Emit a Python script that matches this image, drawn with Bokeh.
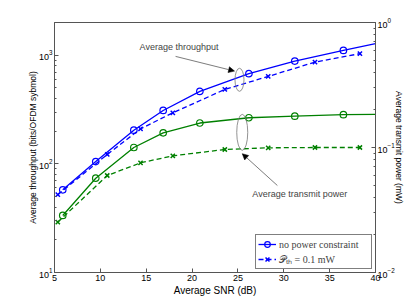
from bokeh.plotting import figure
from bokeh.models import (Range1d, LogScale, LogAxis, FixedTicker, LogTickFormatter,
                          Legend, LegendItem, Arrow, NormalHead, Label)
from bokeh.embed import file_html
from bokeh.resources import INLINE

# ---- data ----
snr_o = [5.9, 9.5, 13.65, 16.85, 20.85, 26.2, 31.2, 36.5]          # circle markers
snr_x = [5.36, 10.75, 14.38, 17.9, 23.57, 28.3, 33.4, 38.3]        # cross markers
snr_end = 40.0                                                     # solid lines run to the edge

thr_noc = [57.7, 105, 204, 310, 464, 676, 883, 1107]               # throughput, no power constraint
thr_noc_end = 1276
thr_pth = [52, 122, 210, 295, 484, 638, 863, 1033]                 # throughput, P_th = 0.1 mW

pow_noc = [0.0286, 0.0568, 0.100, 0.131, 0.157, 0.173, 0.178, 0.183]  # power (mW), no constraint
pow_noc_end = 0.184
pow_pth = [0.0253, 0.0597, 0.0754, 0.0858, 0.0964, 0.0994, 0.100, 0.100]  # power, P_th

x_ticks = [5, 10, 15, 20, 25, 30, 35, 40]
thr_ticks = [10, 100, 1000]
pow_ticks = [0.01, 0.1, 1]

BLUE = "#0000ff"
GREEN = "#008000"
AX = "#555555"
FONT = "Liberation Sans"


def log_minors(majors, upper):
    out = []
    for m in majors:
        for k in range(2, 10):
            v = m * k
            if v <= upper * 1.0001:
                out.append(v)
    return out


p = figure(width=415, height=306, x_range=Range1d(5, 40), y_range=Range1d(10, 2000),
           y_axis_type="log", output_backend="svg", toolbar_location=None,
           min_border_left=54, min_border_right=40, min_border_top=22, min_border_bottom=34)
p.extra_y_ranges = {"pw": Range1d(0.01, 1)}
p.extra_y_scales = {"pw": LogScale()}
p.grid.visible = False
p.outline_line_color = AX
p.background_fill_color = "white"
p.border_fill_color = "white"

LW = 1.3
# throughput (left axis)
l1 = p.line(snr_o + [snr_end], thr_noc + [thr_noc_end], line_color=BLUE, line_width=LW)
m1 = p.scatter(snr_o, thr_noc, marker="circle", size=6.5, fill_color=None,
               line_color=BLUE, line_width=1.2)
l2 = p.line(snr_x, thr_pth, line_color=BLUE, line_width=LW, line_dash="5 3")
m2 = p.scatter(snr_x, thr_pth, marker="x", size=6, line_color=BLUE, line_width=1.5)

# power (right axis)
p.line(snr_o + [snr_end], pow_noc + [pow_noc_end], line_color=GREEN, line_width=LW,
       y_range_name="pw")
p.scatter(snr_o, pow_noc, marker="circle", size=6.5, fill_color=None,
          line_color=GREEN, line_width=1.2, y_range_name="pw")
p.line(snr_x, pow_pth, line_color=GREEN, line_width=LW, line_dash="5 3", y_range_name="pw")
p.scatter(snr_x, pow_pth, marker="x", size=6, line_color=GREEN, line_width=1.5,
          y_range_name="pw")


def style_axis(ax):
    ax.axis_line_color = AX
    ax.major_tick_line_color = AX
    ax.minor_tick_line_color = AX
    ax.major_tick_in = 4
    ax.major_tick_out = 0
    ax.minor_tick_in = 2
    ax.minor_tick_out = 0
    ax.major_label_text_font = FONT
    ax.major_label_text_font_size = "9px"
    ax.major_label_text_color = "black"
    ax.axis_label_text_font = FONT
    ax.axis_label_text_font_size = "10px"
    ax.axis_label_text_font_style = "normal"
    ax.axis_label_text_color = "black"


xa = p.xaxis[0]
xa.ticker = FixedTicker(ticks=x_ticks, minor_ticks=[])
xa.axis_label = "Average SNR (dB)"
style_axis(xa)
xa.major_label_standoff = 2
xa.axis_label_standoff = 1

ya = p.yaxis[0]
ya.ticker = FixedTicker(ticks=thr_ticks, minor_ticks=log_minors(thr_ticks, 2000))
ya.formatter = LogTickFormatter()
ya.axis_label = "Average throughput (bits/OFDM sybmol)"
style_axis(ya)
ya.axis_label_text_font_size = "8.5px"
ya.major_label_standoff = 2
ya.axis_label_standoff = -2

ra = LogAxis(y_range_name="pw", axis_label="Average transmit power (mW)",
             ticker=FixedTicker(ticks=pow_ticks, minor_ticks=log_minors(pow_ticks[:-1], 1)),
             formatter=LogTickFormatter())
style_axis(ra)
ra.axis_label_text_font_size = "8.5px"
ra.major_label_standoff = 2
ra.axis_label_standoff = -4
p.add_layout(ra, "right")

# annotations
ELL_COLOR = "#777777"
p.ellipse(x=[25.17], y=[594], width=[9], height=[23], width_units="screen",
          height_units="screen", fill_color=None, line_color=ELL_COLOR, line_width=0.8)
p.ellipse(x=[25.47], y=[195], width=[11], height=[36], width_units="screen",
          height_units="screen", fill_color=None, line_color=ELL_COLOR, line_width=0.8)

p.add_layout(Arrow(end=NormalHead(size=6, fill_color="black", line_color="black", line_width=0.5),
                   x_start=18.2, y_start=975, x_end=24.63, y_end=714,
                   line_color="#444444", line_width=0.7))
p.add_layout(Arrow(end=NormalHead(size=6, fill_color="black", line_color="black", line_width=0.5),
                   x_start=29.3, y_start=63.2, x_end=25.47, y_end=124,
                   line_color="#444444", line_width=0.7))

p.add_layout(Label(x=18.58, y=1180, text="Average throughput", text_align="center",
                   text_baseline="middle", text_font=FONT, text_font_size="9px"))
p.add_layout(Label(x=31.74, y=53.1, text="Average transmit power", text_align="center",
                   text_baseline="middle", text_font=FONT, text_font_size="9px"))

legend = Legend(items=[LegendItem(label="no power constraint", renderers=[l1, m1]),
                       LegendItem(label="\U0001D4ABₜₕ = 0.1 mW", renderers=[l2, m2])],
                location="bottom_right")
legend.label_text_font = "Liberation Serif"
legend.label_text_font_size = "10px"
legend.glyph_width = 18
legend.glyph_height = 14
legend.label_height = 14
legend.label_width = 90
legend.label_standoff = 3
legend.padding = 2
legend.spacing = 1
legend.margin = 3
legend.border_line_color = "black"
legend.border_line_width = 1
legend.background_fill_color = "white"
p.add_layout(legend)

open("out.html", "w").write(file_html(p, INLINE))
